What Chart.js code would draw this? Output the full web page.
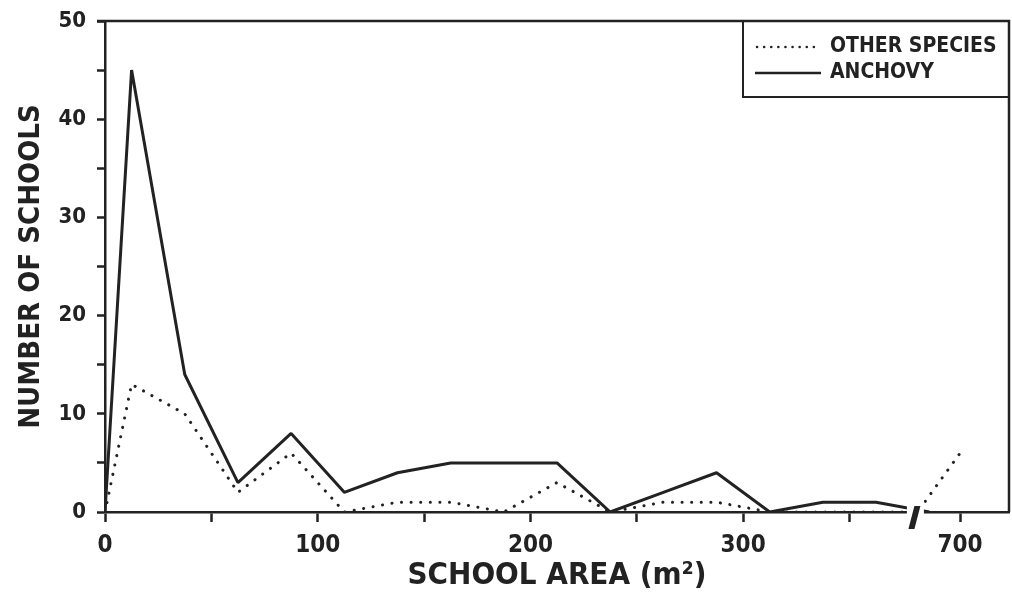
<!DOCTYPE html>
<html>
<head>
<meta charset="utf-8">
<script src="https://cdn.jsdelivr.net/npm/chart.js@4/dist/chart.umd.min.js"></script>
<style>
  html, body { margin: 0; padding: 0; background: #fff; }
  #wrap { width: 1012px; height: 595px; }
</style>
</head>
<body>
<div id="wrap"><canvas id="graph"></canvas></div>
<script>
// school area (m2), bin midpoints; values past the axis break are plotted at area - 298
let areas = [0, 12.5, 37.5, 62.5, 87.5, 112.5, 137.5, 162.5, 187.5, 212.5, 237.5, 262.5, 287.5, 312.5, 337.5, 362.5, 387.5];
let anchovy = [0, 45, 14, 3, 8, 2, 4, 5, 5, 5, 0, 2, 4, 0, 1, 1, 0];

let otherAreas = [0, 12.5, 37.5, 62.5, 87.5, 112.5, 137.5, 162.5, 187.5, 212.5, 237.5, 262.5, 287.5, 312.5, 337.5, 362.5, 680, 700];
let otherSpecies = [0, 13, 10, 2, 6, 0, 1, 1, 0, 3, 0, 1, 1, 0, 0, 0, 0, 6];

let xTicks = [0, 50, 100, 150, 200, 250, 300, 350, 700];
let xLabels = ['0', '', '100', '', '200', '', '300', '', '700'];
let yTicks = [0, 5, 10, 15, 20, 25, 30, 35, 40, 45, 50];

const BREAK_SHIFT = 298;
function toAxis(a) {
    return a > 500 ? a - BREAK_SHIFT : a;
}

const FONT = "'Liberation Sans Narrow', 'DejaVu Sans Condensed', Arial, sans-serif";

// frame, axis break and boxed legend
const decorations = {
    id: 'decorations',
    afterDraw(chart) {
        let ctx = chart.ctx;
        let area = chart.chartArea;
        let xs = chart.scales.x;
        ctx.save();
        ctx.strokeStyle = '#222';
        ctx.lineWidth = 2.5;
        ctx.beginPath();
        ctx.moveTo(97, area.top);
        ctx.lineTo(area.right, area.top);
        ctx.lineTo(area.right, area.bottom);
        ctx.stroke();

        // axis break
        let b0 = xs.getPixelForValue(377);
        let b1 = xs.getPixelForValue(385);
        ctx.fillStyle = '#fff';
        ctx.fillRect(b0, area.bottom - 12, b1 - b0, 16);
        let cx = (b0 + b1) / 2;
        ctx.fillStyle = '#222';
        ctx.beginPath();
        ctx.moveTo(cx - 1, area.bottom - 6);
        ctx.lineTo(cx + 5, area.bottom - 6);
        ctx.lineTo(cx - 1, area.bottom + 17);
        ctx.lineTo(cx - 7, area.bottom + 17);
        ctx.closePath();
        ctx.fill();

        // legend box
        ctx.lineWidth = 2;
        ctx.strokeStyle = '#222';
        ctx.beginPath();
        ctx.moveTo(743, area.top);
        ctx.lineTo(743, 97);
        ctx.lineTo(area.right, 97);
        ctx.stroke();

        ctx.lineCap = 'round';
        ctx.lineWidth = 2.5;
        ctx.setLineDash([0.1, 7]);
        ctx.beginPath();
        ctx.moveTo(757, 47);
        ctx.lineTo(820, 47);
        ctx.stroke();
        ctx.setLineDash([]);
        ctx.lineCap = 'butt';
        ctx.beginPath();
        ctx.moveTo(755, 73);
        ctx.lineTo(821, 73);
        ctx.stroke();

        ctx.fillStyle = '#222';
        ctx.font = 'bold 21px ' + FONT;
        ctx.textBaseline = 'middle';
        ctx.textAlign = 'left';
        ctx.fillText('OTHER SPECIES', 830, 47);
        ctx.fillText('ANCHOVY', 830, 73);
        ctx.restore();
    }
};

let ctx = document.getElementById('graph').getContext('2d');
let graph = new Chart(ctx, {
    type: 'line',
    data: {
        datasets: [{
            label: 'OTHER SPECIES',
            data: otherAreas.map((a, i) => ({ x: toAxis(a), y: otherSpecies[i] })),
            borderColor: '#222',
            borderWidth: 3,
            borderDash: [0.1, 9.5],
            borderCapStyle: 'round',
            pointRadius: 0,
            tension: 0,
            fill: false
        }, {
            label: 'ANCHOVY',
            data: areas.map((a, i) => ({ x: toAxis(a), y: anchovy[i] })),
            borderColor: '#222',
            borderWidth: 3,
            borderJoinStyle: 'bevel',
            pointRadius: 0,
            tension: 0,
            fill: false
        }]
    },
    options: {
        responsive: true,
        maintainAspectRatio: false,
        animation: false,
        layout: { padding: { left: 0, top: 21, right: 3, bottom: 0 } },
        plugins: {
            legend: { display: false },
            tooltip: { enabled: false }
        },
        scales: {
            x: {
                type: 'linear',
                min: 0,
                max: 425,
                afterBuildTicks: (scale) => {
                    scale.ticks = xTicks.map(v => ({ value: toAxis(v) }));
                },
                afterFit: (scale) => { scale.height = 83; },
                ticks: {
                    autoSkip: false,
                    maxRotation: 0,
                    padding: 9,
                    color: '#222',
                    font: { family: FONT, size: 24, weight: 'bold' },
                    callback: (value, index) => xLabels[index]
                },
                grid: {
                    drawOnChartArea: false,
                    drawTicks: true,
                    tickLength: 10,
                    tickWidth: 2.5,
                    tickColor: '#222'
                },
                border: { color: '#222', width: 2.5 },
                title: {
                    display: true,
                    text: 'SCHOOL AREA (m²)',
                    color: '#222',
                    font: { family: FONT, size: 31, weight: 'bold' },
                    padding: { top: 0, bottom: 0 }
                }
            },
            y: {
                type: 'linear',
                min: 0,
                max: 50,
                afterBuildTicks: (scale) => {
                    scale.ticks = yTicks.map(v => ({ value: v }));
                },
                afterFit: (scale) => {
                    scale.width = 105;
                    scale.paddingTop = 0;
                    scale.paddingBottom = 0;
                },
                ticks: {
                    autoSkip: false,
                    padding: 11,
                    color: '#222',
                    font: { family: FONT, size: 22, weight: 'bold' },
                    callback: (value) => value % 10 === 0 ? String(value) : ''
                },
                grid: {
                    drawOnChartArea: false,
                    drawTicks: true,
                    tickLength: 8,
                    tickWidth: 2.5,
                    tickColor: '#222'
                },
                border: { color: '#222', width: 2.5 },
                title: {
                    display: true,
                    text: 'NUMBER OF SCHOOLS',
                    color: '#222',
                    font: { family: FONT, size: 29, weight: 'bold' },
                    padding: { top: 14, bottom: 0 }
                }
            }
        }
    },
    plugins: [decorations]
});
</script>
</body>
</html>
